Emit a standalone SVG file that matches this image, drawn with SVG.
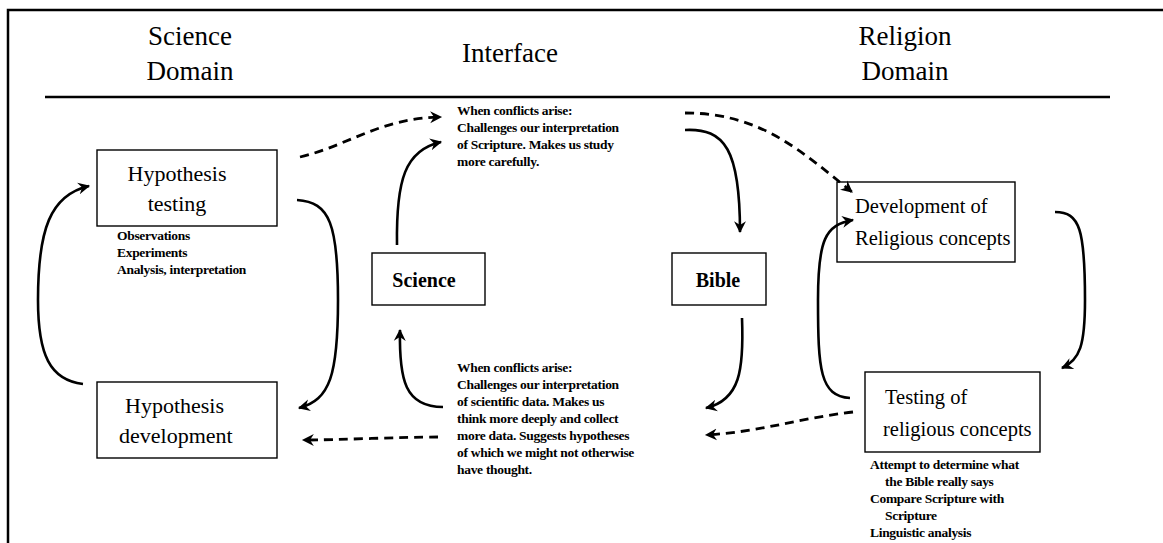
<svg xmlns="http://www.w3.org/2000/svg" width="1163" height="543" viewBox="0 0 1163 543">
<defs>
<marker id="ah" viewBox="0 0 12 12" refX="10" refY="6" markerWidth="13" markerHeight="13" markerUnits="userSpaceOnUse" orient="auto">
<path d="M0,0.5 L11,6 L0,11.5 L3.5,6 z" fill="#000"/>
</marker>
<style>
.title{font-family:"Liberation Serif",serif;font-size:27px;fill:#000}
.node{font-family:"Liberation Serif",serif;font-size:22px;fill:#000}
.noder{font-family:"Liberation Serif",serif;font-size:20.5px;fill:#000}
.nodeb{font-family:"Liberation Serif",serif;font-size:20px;font-weight:bold;fill:#000}
.small{font-family:"Liberation Serif",serif;font-size:13.5px;font-weight:bold;fill:#000;letter-spacing:-0.3px}
.box{fill:#fff;stroke:#000;stroke-width:1.4}
.c{fill:none;stroke:#000;stroke-width:2.6;marker-end:url(#ah)}
.d{fill:none;stroke:#000;stroke-width:2.8;stroke-dasharray:9 6;marker-end:url(#ah)}
</style>
</defs>
<rect width="1163" height="543" fill="#fff"/>
<path d="M8,543 V10 H1163" fill="none" stroke="#000" stroke-width="2.5"/>
<line x1="45" y1="97" x2="1110" y2="97" stroke="#000" stroke-width="2.5"/>
<g id="headers">
<text class="title" x="190" y="45" text-anchor="middle">Science</text>
<text class="title" x="190" y="80" text-anchor="middle">Domain</text>
<text class="title" x="510" y="62" text-anchor="middle">Interface</text>
<text class="title" x="905" y="45" text-anchor="middle">Religion</text>
<text class="title" x="905" y="80" text-anchor="middle">Domain</text>
</g>
<g id="hyp-testing">
<rect class="box" x="97" y="150" width="180" height="76"/>
<text class="node" x="177" y="181" text-anchor="middle">Hypothesis</text>
<text class="node" x="177" y="211" text-anchor="middle">testing</text>
</g>
<g id="hyp-testing-notes">
<text class="small" x="117" y="240">Observations</text>
<text class="small" x="117" y="257">Experiments</text>
<text class="small" x="117" y="274">Analysis, interpretation</text>
</g>
<g id="hyp-development">
<rect class="box" x="97" y="382" width="180" height="76"/>
<text class="node" x="125" y="413">Hypothesis</text>
<text class="node" x="119" y="443">development</text>
</g>
<g id="science">
<rect class="box" x="372" y="253" width="113" height="52"/>
<text class="nodeb" x="424" y="287" text-anchor="middle">Science</text>
</g>
<g id="bible">
<rect class="box" x="672" y="253" width="94" height="52"/>
<text class="nodeb" x="718" y="287" text-anchor="middle">Bible</text>
</g>
<g id="dev-religious">
<rect class="box" x="837" y="182" width="178" height="80"/>
<text class="noder" x="855" y="213">Development of</text>
<text class="noder" x="855" y="245">Religious concepts</text>
</g>
<g id="testing-religious">
<rect class="box" x="865" y="372" width="175" height="80"/>
<text class="noder" x="885" y="404">Testing of</text>
<text class="noder" x="883" y="436">religious concepts</text>
</g>
<g id="testing-religious-notes">
<text class="small" x="870" y="469">Attempt to determine what</text>
<text class="small" x="885" y="486">the Bible really says</text>
<text class="small" x="870" y="503">Compare Scripture with</text>
<text class="small" x="885" y="520">Scripture</text>
<text class="small" x="870" y="537">Linguistic analysis</text>
</g>
<g id="top-note">
<text class="small" x="457" y="115">When conflicts arise:</text>
<text class="small" x="457" y="132">Challenges our interpretation</text>
<text class="small" x="457" y="149">of Scripture.  Makes us study</text>
<text class="small" x="457" y="166">more carefully.</text>
</g>
<g id="bottom-note">
<text class="small" x="457" y="372">When conflicts arise:</text>
<text class="small" x="457" y="389">Challenges our interpretation</text>
<text class="small" x="457" y="406">of scientific data.  Makes us</text>
<text class="small" x="457" y="423">think more deeply and collect</text>
<text class="small" x="457" y="440">more data.  Suggests hypotheses</text>
<text class="small" x="457" y="457">of which we might not otherwise</text>
<text class="small" x="457" y="474">have thought.</text>
</g>
<g id="connectors">
<path class="c" d="M83,384 C50,380 38,355 38,300 C38,230 50,195 89,186"/>
<path class="c" d="M297,200 C330,202 338,225 338,300 C338,375 330,400 299,408"/>
<path class="c" d="M397,245 C396,180 405,150 441,142"/>
<path class="d" d="M300,157 C350,145 380,118 441,117"/>
<path class="c" d="M685,130 C725,128 740,150 740,232"/>
<path class="d" d="M685,113 C760,113 800,150 852,192"/>
<path class="c" d="M850,398 C820,396 818,370 818,300 C818,240 825,225 853,220"/>
<path class="c" d="M1055,212 C1080,212 1085,230 1085,300 C1085,345 1080,360 1062,368"/>
<path class="c" d="M742,318 C744,370 740,400 706,408"/>
<path class="c" d="M443,407 C405,407 399,380 400,330"/>
<path class="d" d="M438,437 C400,437 340,440 303,440"/>
<path class="d" d="M853,412 C800,418 760,432 706,435"/>
</g>
</svg>
